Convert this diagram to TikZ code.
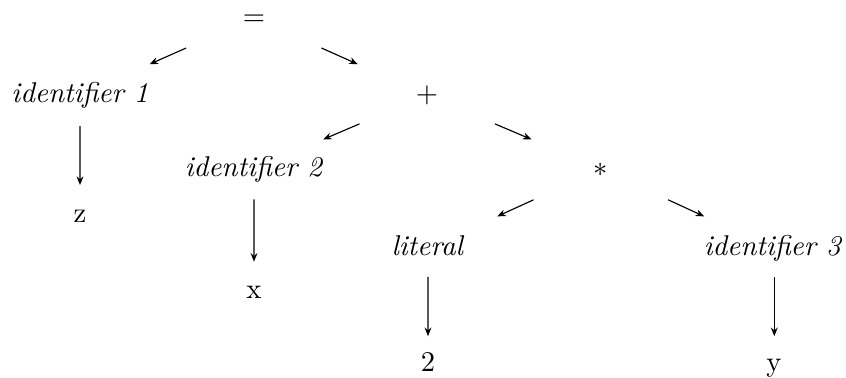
\documentclass[tikz,border=0pt]{standalone}
\usetikzlibrary{calc,arrows.meta}
\begin{document}
\begin{tikzpicture}[x=0.3497pt,y=-0.3497pt,
  lbl/.style={inner sep=0pt,text height=7pt,text depth=2pt,anchor=center},
  arr/.style={-{Stealth[length=3pt,width=2.4pt]},line width=0.4pt}]
\useasboundingbox (0,0) rectangle (846,378);
% nodes (centres = baseline - 2.5pt)
\node[lbl] (eq)   at (254,18)  {$=$};
\node[lbl] (id1)  at (80,95)   {\textit{identifier 1}};
\node[lbl] (plus) at (427,95)  {$+$};
\node[lbl] (z)    at (80,215)  {z};
\node[lbl] (id2)  at (254,169) {\textit{identifier 2}};
\node[lbl] (star) at (601,169) {$*$};
\node[lbl] (x)    at (254,291) {x};
\node[lbl] (lit)  at (428,248) {\textit{literal}};
\node[lbl] (id3)  at (773,248) {\textit{identifier 3}};
\node[lbl] (two)  at (428,364) {2};
\node[lbl] (y)    at (774,364) {y};
% edges
\draw[arr] ($(eq)!0.39!(id1)$) -- ($(eq)!0.60!(id1)$);
\draw[arr] ($(eq)!0.39!(plus)$) -- ($(eq)!0.60!(plus)$);
\draw[arr] ($(plus)!0.39!(id2)$) -- ($(plus)!0.60!(id2)$);
\draw[arr] ($(plus)!0.39!(star)$) -- ($(plus)!0.60!(star)$);
\draw[arr] ($(star)!0.39!(lit)$) -- ($(star)!0.60!(lit)$);
\draw[arr] ($(star)!0.39!(id3)$) -- ($(star)!0.60!(id3)$);
\draw[arr] ($(id1)!0.26!(z)$) -- ($(id1)!0.75!(z)$);
\draw[arr] ($(id2)!0.25!(x)$) -- ($(id2)!0.76!(x)$);
\draw[arr] ($(lit)!0.25!(two)$) -- ($(lit)!0.76!(two)$);
\draw[arr] ($(id3.center)+(1.3,0)$) coordinate (id3b) ($(id3b)!0.25!($(y.center)+(0.3,0)$)$) -- ($(id3b)!0.76!($(y.center)+(0.3,0)$)$);
\end{tikzpicture}
\end{document}
